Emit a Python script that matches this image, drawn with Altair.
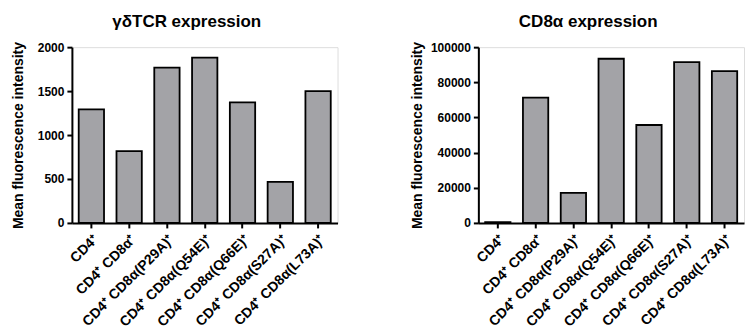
import altair as alt
import pandas as pd

categories = ["CD4⁺", "CD4⁺ CD8α⁺", "CD4⁺ CD8α(P29A)⁺", "CD4⁺ CD8α(Q54E)⁺",
              "CD4⁺ CD8α(Q66E)⁺", "CD4⁺ CD8α(S27A)⁺", "CD4⁺ CD8α(L73A)⁺"]
gd_tcr = [1292, 818, 1766, 1880, 1372, 468, 1500]
cd8a = [400, 71300, 17100, 93400, 55700, 91500, 86400]

left_ticks = [0, 500, 1000, 1500, 2000]
right_ticks = [0, 20000, 40000, 60000, 80000, 100000]

FONT = "Liberation Sans"
BAR = "#a3a3a7"


def panel(values, title, ymax, ticks, title_pad, dx):
    df = pd.DataFrame({"cat": categories, "val": values})
    return alt.Chart(df).mark_bar(
        color=BAR, stroke="black", strokeWidth=1.8
    ).encode(
        x=alt.X("cat:N", sort=categories, title=None,
                scale=alt.Scale(paddingInner=0.33, paddingOuter=0.18),
                axis=alt.Axis(labelAngle=-45, labelFontSize=14, labelFont=FONT,
                              labelFontWeight="bold", labelColor="black",
                              domainColor="black", domainWidth=2,
                              tickColor="black", tickWidth=2, tickSize=5,
                              labelPadding=4, labelLimit=200)),
        y=alt.Y("val:Q", title="Mean fluorescence intensity",
                scale=alt.Scale(domain=[0, ymax], nice=False),
                axis=alt.Axis(values=ticks, format="d", grid=False,
                              labelFontSize=12, labelFont=FONT,
                              labelFontWeight="bold", labelColor="black",
                              titleFont=FONT, titleFontSize=14,
                              titleFontWeight="bold", titleColor="black",
                              titlePadding=title_pad,
                              domainColor="black", domainWidth=2,
                              tickColor="black", tickWidth=2, tickSize=5,
                              labelPadding=3)),
    ).properties(
        width=266, height=176,
        title=alt.TitleParams(title, font=FONT, fontSize=17, fontWeight="bold",
                              color="black", anchor="middle", dx=dx, offset=10),
    )


left = panel(gd_tcr, "γδTCR expression", 2000, left_ticks, 12, -18)
right = panel(cd8a, "CD8α expression", 100000, right_ticks, 6, -23)

chart = alt.hconcat(left, right, spacing=71).properties(
    padding={"left": 10, "top": 12, "right": 0, "bottom": 0}
).configure_view(stroke=None).configure(background="white")

chart.save("out.html", embed_options={"renderer": "svg", "actions": False})
